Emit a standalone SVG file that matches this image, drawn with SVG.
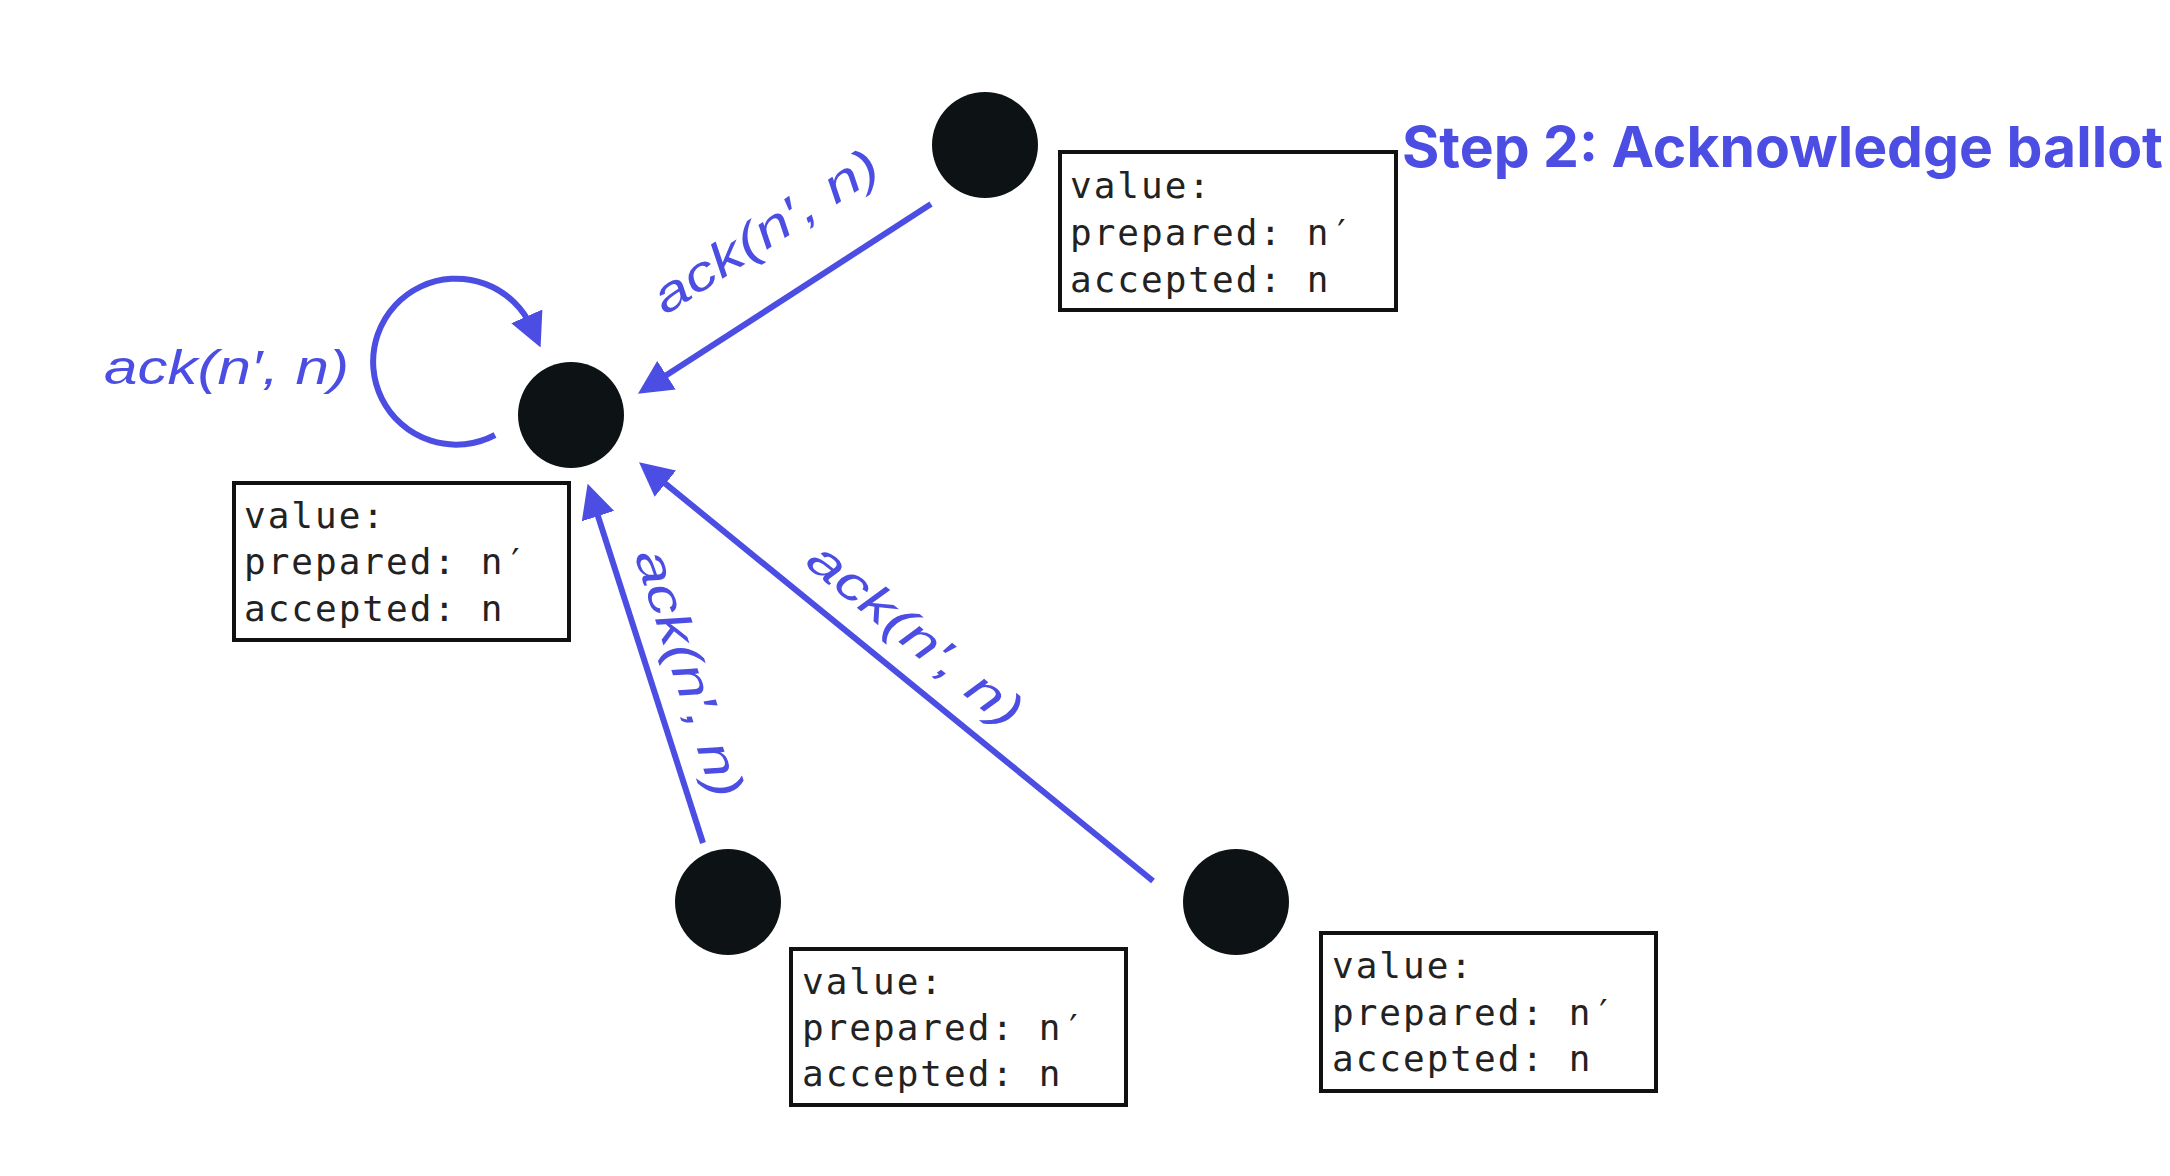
<svg xmlns="http://www.w3.org/2000/svg" width="2170" height="1176" viewBox="0 0 2170 1176">
<defs>
<style>
.node{fill:#0d1214}
.box{fill:#ffffff;stroke:#111111;stroke-width:4}
.mono{font-family:"DejaVu Sans Mono","Liberation Mono",monospace;font-size:36px;letter-spacing:2px;fill:#222222}
.edge{fill:none;stroke:#4b4de3;stroke-width:6}
.lbl{font-family:"Liberation Sans",Arial,sans-serif;font-style:italic;font-size:48px;fill:#4b4de3}
.title{font-family:Inter,"Liberation Sans",sans-serif;font-weight:700;font-size:56px;fill:#4b4de3}
</style>
<marker id="ah" markerUnits="userSpaceOnUse" markerWidth="34" markerHeight="34" viewBox="0 0 32 32" refX="12" refY="16" orient="auto">
<path d="M0,0 L32,16 L0,32 z" fill="#4b4de3"/>
</marker>
</defs>
<rect width="2170" height="1176" fill="#ffffff"/>
<g id="connectors">
<path class="edge" d="M931,204 L655.8,382.1" marker-end="url(#ah)"/>
<path class="edge" d="M703,843 L594.1,504" marker-end="url(#ah)"/>
<path class="edge" d="M1153,881 L655.5,475.6" marker-end="url(#ah)"/>
<path class="edge" d="M495,435 A83,83 0 1 1 532,328" marker-end="url(#ah)"/>
<text class="lbl" x="104" y="384" textLength="245" lengthAdjust="spacingAndGlyphs">ack(n′, n)</text>
<text class="lbl" text-anchor="middle" textLength="260" lengthAdjust="spacingAndGlyphs" transform="translate(774,245) rotate(-33)">ack(n′, n)</text>
<text class="lbl" text-anchor="middle" textLength="259" lengthAdjust="spacingAndGlyphs" transform="translate(674,678) rotate(72.1)">ack(n′, n)</text>
<text class="lbl" text-anchor="middle" textLength="262" lengthAdjust="spacingAndGlyphs" transform="translate(905,647) rotate(39.2)">ack(n′, n)</text>
</g>
<g id="node-center">
<circle class="node" cx="571" cy="415" r="53"/>
<rect class="box" x="234" y="483" width="335" height="157"/>
<text class="mono" x="244" y="528">value:</text>
<text class="mono" x="244" y="574">prepared: n′</text>
<text class="mono" x="244" y="621">accepted: n</text>
</g>
<g id="node-top">
<circle class="node" cx="985" cy="145" r="53"/>
<rect class="box" x="1060" y="152" width="336" height="158"/>
<text class="mono" x="1070" y="198">value:</text>
<text class="mono" x="1070" y="245">prepared: n′</text>
<text class="mono" x="1070" y="292">accepted: n</text>
</g>
<g id="node-bottom-left">
<circle class="node" cx="728" cy="902" r="53"/>
<rect class="box" x="791" y="949" width="335" height="156"/>
<text class="mono" x="802" y="994">value:</text>
<text class="mono" x="802" y="1040">prepared: n′</text>
<text class="mono" x="802" y="1086">accepted: n</text>
</g>
<g id="node-bottom-right">
<circle class="node" cx="1236" cy="902" r="53"/>
<rect class="box" x="1321" y="933" width="335" height="158"/>
<text class="mono" x="1332" y="978">value:</text>
<text class="mono" x="1332" y="1025">prepared: n′</text>
<text class="mono" x="1332" y="1071">accepted: n</text>
</g>
<g id="title">
<text class="title" x="1402" y="167" textLength="761" lengthAdjust="spacingAndGlyphs">Step 2: Acknowledge ballot</text>
</g>
</svg>
